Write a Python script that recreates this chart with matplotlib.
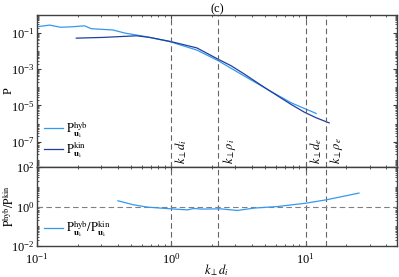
import numpy as np
import matplotlib
matplotlib.use("Agg")
import matplotlib.pyplot as plt
from matplotlib.ticker import LogLocator, NullFormatter

# spectra (k_perp d_i, power)
k_hyb = [0.1, 0.124, 0.15, 0.185, 0.226, 0.253, 0.368, 0.45, 0.65, 0.98,
         1.55, 2.2, 3.49, 5.2, 7.8, 12.0]
logp_hyb = [-0.65, -0.56, -0.68, -0.65, -0.60, -0.76, -0.83, -1.0, -1.2, -1.48,
            -1.94, -2.5, -3.37, -4.11, -4.85, -5.44]

k_kin = [0.196, 0.31, 0.55, 0.69, 0.98, 1.55, 2.2, 2.78, 3.49, 5.2, 7.8,
         9.8, 12.0, 15.0]
logp_kin = [-1.28, -1.24, -1.15, -1.24, -1.46, -1.82, -2.42, -2.8, -3.26,
            -4.11, -4.94, -5.37, -5.68, -5.96]

k_ratio = [0.4, 0.52, 0.66, 1.0, 1.32, 1.47, 1.66, 2.34, 3.1, 4.15, 6.2,
           10.1, 14.3, 25.0]
logr = [0.29, 0.09, -0.03, -0.12, -0.17, -0.1, -0.13, -0.12, -0.2, -0.08,
        0.0, 0.17, 0.34, 0.68]

scales = [1.0, 2.24, 10.0, 14.1]
scale_labels = [r"$k_\perp d_i$", r"$k_\perp \rho_i$", r"$k_\perp d_e$",
                r"$k_\perp \rho_e$"]

c_hyb = "#3399f0"
c_kin = "#1f3f9f"

plt.rcParams["font.family"] = ["Liberation Serif", "DejaVu Serif"]
plt.rcParams["mathtext.fontset"] = "stix"
plt.rcParams["font.size"] = 9
plt.rcParams["axes.edgecolor"] = "0.25"
plt.rcParams["axes.linewidth"] = 1.0


def style_axis(ax):
    ax.set_xscale("log")
    ax.set_yscale("log")
    ax.tick_params(which="both", direction="in", top=True, right=True,
                   color="0.25", labelsize=9, pad=2)
    ax.tick_params(which="major", length=3)
    ax.tick_params(which="minor", length=1.5)


fig = plt.figure(figsize=(3.99, 2.77), dpi=100)
ax1 = fig.add_axes([0.093, 0.397, 0.902, 0.549])
ax2 = fig.add_axes([0.093, 0.112, 0.902, 0.285], sharex=ax1)

# top panel: spectra
ax1.plot(k_hyb, 10 ** np.array(logp_hyb), color=c_hyb, lw=0.9,
         label=r"$\mathrm{P}^{\mathrm{hyb}}_{\mathbf{u}_\mathrm{i}}$")
ax1.plot(k_kin, 10 ** np.array(logp_kin), color=c_kin, lw=0.9,
         label=r"$\mathrm{P}^{\mathrm{kin}}_{\mathbf{u}_\mathrm{i}}$")
style_axis(ax1)
ax1.set_xlim(0.1, 48)
ax1.set_ylim(4e-9, 1)
ax1.set_yticks([1e-1, 1e-3, 1e-5, 1e-7])
ax1.yaxis.set_minor_locator(LogLocator(base=10, subs=np.arange(1, 10), numticks=30))
ax1.yaxis.set_minor_formatter(NullFormatter())
ax1.tick_params(labelbottom=False)
ax1.set_ylabel("P")
ax1.yaxis.set_label_coords(-0.062, 0.5)
ax1.set_title("(c)", fontsize=9, pad=2)

for s, lab in zip(scales, scale_labels):
    ax1.axvline(s, color="0.4", lw=0.8, ls=(0, (5, 3)))
    ax2.axvline(s, color="0.4", lw=0.8, ls=(0, (5, 3)))
    ax1.text(s * 1.04, 0.02, lab, rotation=90, ha="left", va="bottom",
             transform=ax1.get_xaxis_transform(), fontsize=9)

ax1.legend(loc="lower left", frameon=False, handlelength=1.5,
           handletextpad=0.3, labelspacing=0.05, borderaxespad=0.15,
           fontsize=9)

# bottom panel: ratio
ax2.axhline(1.0, color="0.5", lw=0.8, ls=(0, (5, 3)))
ax2.plot(k_ratio, 10 ** np.array(logr), color=c_hyb, lw=0.9,
         label=r"$\mathrm{P}^{\mathrm{hyb}}_{\mathbf{u}_\mathrm{i}}/"
               r"\mathrm{P}^{\mathrm{kin}}_{\mathbf{u}_\mathrm{i}}$")
style_axis(ax2)
ax2.tick_params(axis="x", which="both", pad=4)
ax2.set_xlim(0.1, 48)
ax2.set_ylim(1e-2, 1e2)
ax2.set_yticks([1e-2, 1e0, 1e2])
ax2.yaxis.set_minor_locator(LogLocator(base=10, subs=np.arange(1, 10), numticks=30))
ax2.yaxis.set_minor_formatter(NullFormatter())
ax2.set_ylabel(r"$\mathrm{P}^{\mathrm{hyb}}/\mathrm{P}^{\mathrm{kin}}$", fontsize=8.5)
ax2.yaxis.set_label_coords(-0.06, 0.5)
ax2.set_xlabel(r"$k_\perp d_i$")
ax2.xaxis.set_label_coords(0.5, -0.2)
ax2.legend(loc="lower left", frameon=False, handlelength=1.5,
           handletextpad=0.3, borderaxespad=0.15, fontsize=9)

fig.savefig("out.png", dpi=100)
